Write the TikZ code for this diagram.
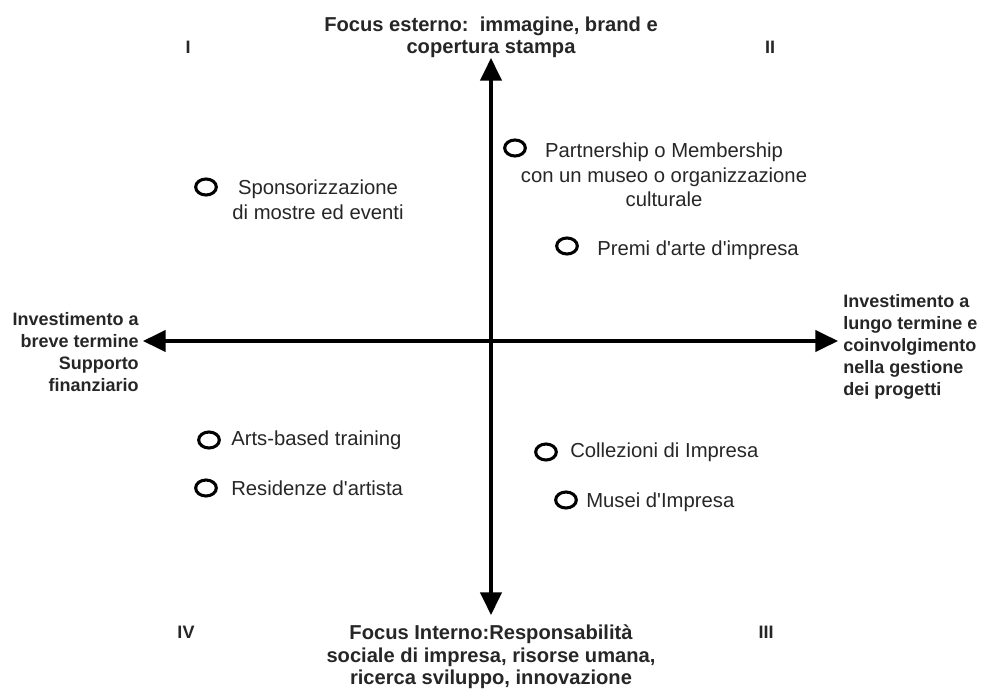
\documentclass[tikz,border=0pt]{standalone}
\usepackage{fontspec}
\setmainfont{Liberation Sans}
\usetikzlibrary{arrows.meta,shapes.geometric}
\definecolor{txt}{HTML}{262626}
\newcommand{\apo}{\textquotesingle}
\begin{document}
\begin{tikzpicture}[x=0.75pt,y=-0.75pt,
  axis/.style={line width=2.3pt,draw=black,{Triangle[length=17pt,width=16pt]}-{Triangle[length=17pt,width=16pt]}},
  dot/.style={ellipse,draw=black,line width=2.3pt,minimum width=15.5pt,minimum height=12pt,inner sep=0pt},
  bl/.style={font=\bfseries\fontsize{13.5}{16.5}\selectfont,text=txt,inner sep=0pt},
  bbig/.style={font=\bfseries\fontsize{15.1}{16.8}\selectfont,text=txt,inner sep=0pt},
  lbl/.style={font=\fontsize{15.2}{18.5}\selectfont,text=txt,inner sep=0pt}]
\useasboundingbox (0,0) rectangle (982,692);
% axes
\coordinate (top) at (491,58);
\coordinate (bot) at (491,615);
\coordinate (lft) at (143,341);
\coordinate (rgt) at (838,341);
\draw[axis] (bot) -- (top);
\draw[axis] (lft) -- (rgt);
% axis labels
\node[bbig,align=center] (tl) at (491,37) {Focus esterno:\ \ immagine, brand e\\copertura stampa};
\node[bl,align=right,anchor=east] (ll) at (139,352) {Investimento a\\breve termine\\Supporto\\finanziario};
\node[bl,align=left,anchor=west] (rl) at (843,347) {Investimento a\\lungo termine e\\coinvolgimento\\nella gestione\\dei progetti};
\node[bbig,align=center] (bl) at (491,657) {Focus Interno:Responsabilità\\sociale di impresa, risorse umana,\\ricerca sviluppo, innovazione};
% quadrant numbers
\node[bl] (q1) at (188,47) {I};
\node[bl] (q2) at (770,47) {II};
\node[bl] (q3) at (766,632) {III};
\node[bl] (q4) at (186,632) {IV};
% items
\node[dot] (d1) at (206,187) {};
\node[lbl,align=center] (t1) at (318,200) {Sponsorizzazione\\di mostre ed eventi};
\node[dot] (d2) at (515,148) {};
\node[lbl,align=center] (t2) at (664,175) {Partnership o Membership\\con un museo o organizzazione\\culturale};
\node[dot] (d3) at (567,246) {};
\node[lbl,anchor=west] (t3) at (597,250) {Premi d\apo arte d\apo impresa};
\node[dot] (d4) at (209,440) {};
\node[lbl,anchor=west] (t4) at (231,440) {Arts-based training};
\node[dot] (d5) at (206,488) {};
\node[lbl,anchor=west] (t5) at (231,488) {Residenze d\apo artista};
\node[dot] (d6) at (546,452) {};
\node[lbl,anchor=west] (t6) at (570,452) {Collezioni di Impresa};
\node[dot] (d7) at (566,500) {};
\node[lbl,anchor=west] (t7) at (586,502) {Musei d\apo Impresa};
\end{tikzpicture}
\end{document}
